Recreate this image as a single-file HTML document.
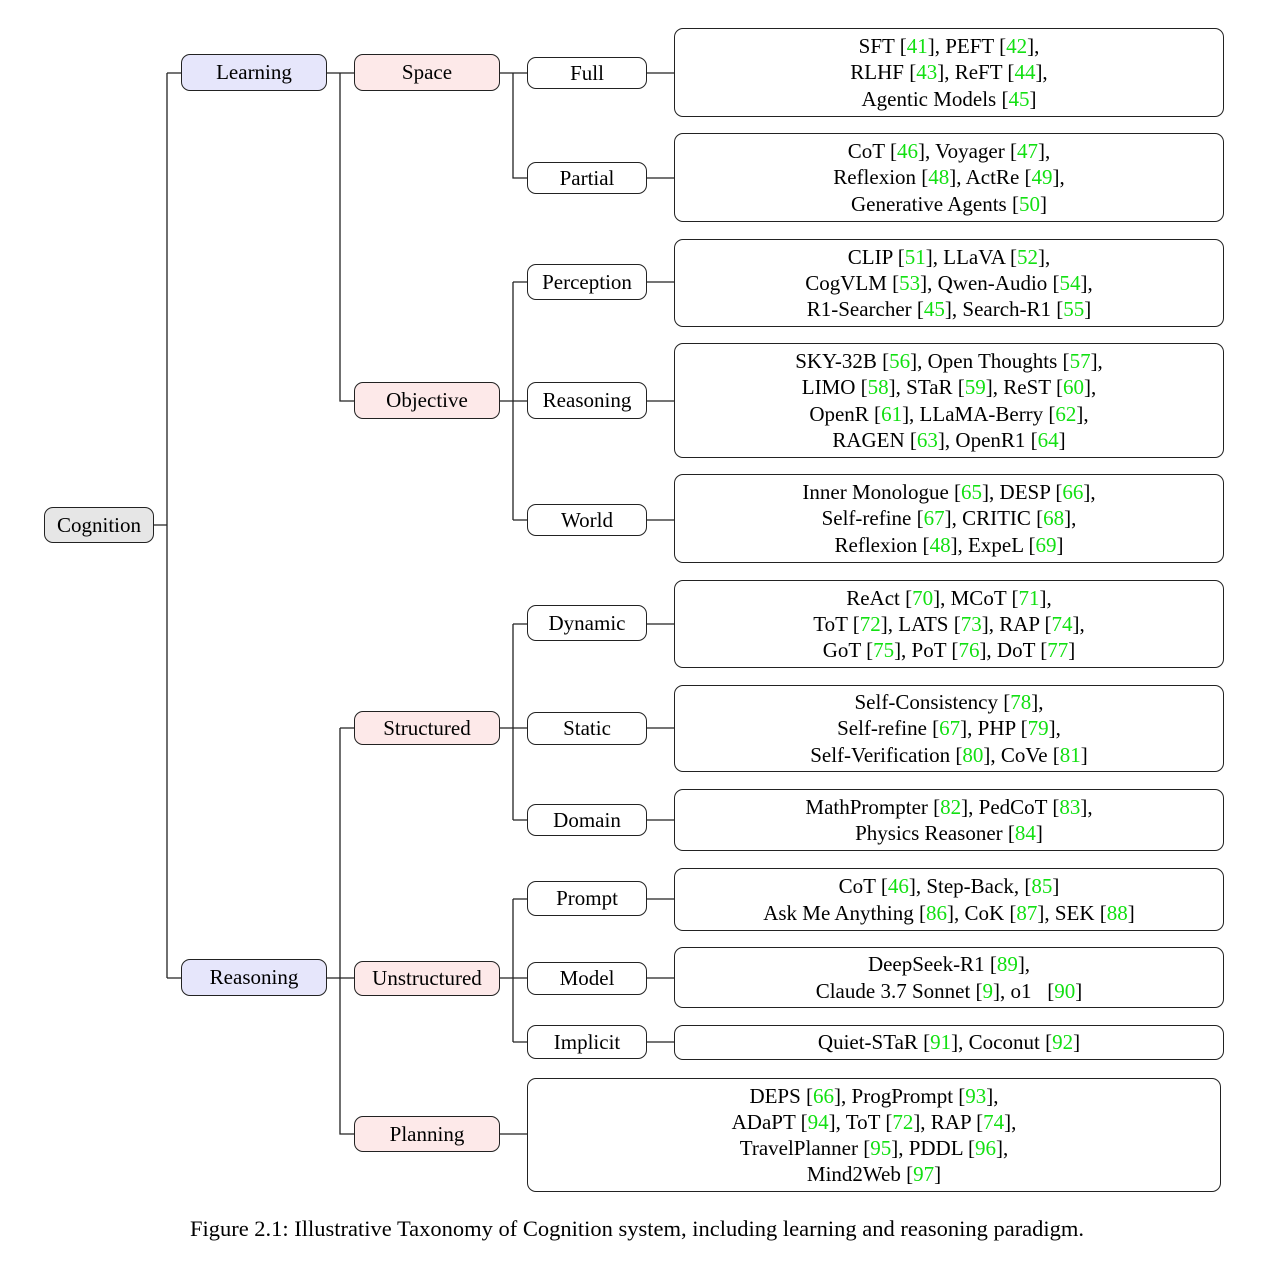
<!DOCTYPE html>
<html><head><meta charset="utf-8"><style>
body{margin:0;width:1280px;height:1276px;background:#fff;position:relative;font-family:"Liberation Serif",serif;color:#000;overflow:hidden}
.b{position:absolute;box-sizing:border-box;border:1.3px solid #222;border-radius:9px;display:flex;flex-direction:column;align-items:center;justify-content:center;font-size:21px;line-height:26.2px;text-align:center;white-space:nowrap}
.g{color:#12e012}
.c{background:#e6e6e6}.l{background:#e6e6fb}.m{background:#fde9e9}
svg{position:absolute;left:0;top:0}
.cap{position:absolute;left:0;width:1274px;top:1216px;text-align:center;font-size:22.5px}
</style></head><body>
<svg width="1280" height="1276" stroke="#222" stroke-width="1.3" fill="none">
<path d="M154 525H167M167 73V978M167 73H181M167 978H181"/>
<path d="M327 73H354M340 73V401H354M327 978H354M340 728V1134H354M340 728H354"/>
<path d="M500 73H527M513 73V178H527"/>
<path d="M500 401H527M513 282V520M513 282H527M513 520H527"/>
<path d="M500 728H527M513 624V820M513 624H527M513 820H527"/>
<path d="M500 978H527M513 899V1042M513 899H527M513 1042H527"/>
<path d="M500 1134H527"/>
<path d="M647 73H674M647 178H674M647 282H674M647 401H674M647 520H674M647 624H674M647 728H674M647 820H674M647 899H674M647 978H674M647 1042H674"/>
</svg>
<div class="b c" style="left:44px;top:507px;width:110px;height:36px">Cognition</div>
<div class="b l" style="left:181px;top:54px;width:146px;height:37px">Learning</div>
<div class="b l" style="left:181px;top:959px;width:146px;height:37px">Reasoning</div>
<div class="b m" style="left:354px;top:54px;width:146px;height:37px">Space</div>
<div class="b m" style="left:354px;top:382px;width:146px;height:37px">Objective</div>
<div class="b m" style="left:354px;top:711px;width:146px;height:34px">Structured</div>
<div class="b m" style="left:354px;top:961px;width:146px;height:35px">Unstructured</div>
<div class="b m" style="left:354px;top:1116px;width:146px;height:36px">Planning</div>

<div class="b" style="left:527px;top:57px;width:120px;height:32px">Full</div>
<div class="b" style="left:527px;top:162px;width:120px;height:32px">Partial</div>
<div class="b" style="left:527px;top:264px;width:120px;height:36px">Perception</div>
<div class="b" style="left:527px;top:382px;width:120px;height:37px">Reasoning</div>
<div class="b" style="left:527px;top:504px;width:120px;height:32px">World</div>
<div class="b" style="left:527px;top:605px;width:120px;height:36px">Dynamic</div>
<div class="b" style="left:527px;top:712px;width:120px;height:33px">Static</div>
<div class="b" style="left:527px;top:804px;width:120px;height:32px">Domain</div>
<div class="b" style="left:527px;top:881px;width:120px;height:35px">Prompt</div>
<div class="b" style="left:527px;top:962px;width:120px;height:33px">Model</div>
<div class="b" style="left:527px;top:1025px;width:120px;height:34px">Implicit</div>

<div class="b" style="left:674px;top:28px;width:550px;height:89px"><div>SFT [<span class="g">41</span>], PEFT [<span class="g">42</span>],</div><div>RLHF [<span class="g">43</span>], ReFT [<span class="g">44</span>],</div><div>Agentic Models [<span class="g">45</span>]</div></div>
<div class="b" style="left:674px;top:133px;width:550px;height:89px"><div>CoT [<span class="g">46</span>], Voyager [<span class="g">47</span>],</div><div>Reflexion [<span class="g">48</span>], ActRe [<span class="g">49</span>],</div><div>Generative Agents [<span class="g">50</span>]</div></div>
<div class="b" style="left:674px;top:239px;width:550px;height:88px"><div>CLIP [<span class="g">51</span>], LLaVA [<span class="g">52</span>],</div><div>CogVLM [<span class="g">53</span>], Qwen-Audio [<span class="g">54</span>],</div><div>R1-Searcher [<span class="g">45</span>], Search-R1 [<span class="g">55</span>]</div></div>
<div class="b" style="left:674px;top:343px;width:550px;height:115px"><div>SKY-32B [<span class="g">56</span>], Open Thoughts [<span class="g">57</span>],</div><div>LIMO [<span class="g">58</span>], STaR [<span class="g">59</span>], ReST [<span class="g">60</span>],</div><div>OpenR [<span class="g">61</span>], LLaMA-Berry [<span class="g">62</span>],</div><div>RAGEN [<span class="g">63</span>], OpenR1 [<span class="g">64</span>]</div></div>
<div class="b" style="left:674px;top:474px;width:550px;height:89px"><div>Inner Monologue [<span class="g">65</span>], DESP [<span class="g">66</span>],</div><div>Self-refine [<span class="g">67</span>], CRITIC [<span class="g">68</span>],</div><div>Reflexion [<span class="g">48</span>], ExpeL [<span class="g">69</span>]</div></div>
<div class="b" style="left:674px;top:580px;width:550px;height:88px"><div>ReAct [<span class="g">70</span>], MCoT [<span class="g">71</span>],</div><div>ToT [<span class="g">72</span>], LATS [<span class="g">73</span>], RAP [<span class="g">74</span>],</div><div>GoT [<span class="g">75</span>], PoT [<span class="g">76</span>], DoT [<span class="g">77</span>]</div></div>
<div class="b" style="left:674px;top:685px;width:550px;height:87px"><div>Self-Consistency [<span class="g">78</span>],</div><div>Self-refine [<span class="g">67</span>], PHP [<span class="g">79</span>],</div><div>Self-Verification [<span class="g">80</span>], CoVe [<span class="g">81</span>]</div></div>
<div class="b" style="left:674px;top:789px;width:550px;height:62px"><div>MathPrompter [<span class="g">82</span>], PedCoT [<span class="g">83</span>],</div><div>Physics Reasoner [<span class="g">84</span>]</div></div>
<div class="b" style="left:674px;top:868px;width:550px;height:63px"><div>CoT [<span class="g">46</span>], Step-Back, [<span class="g">85</span>]</div><div>Ask Me Anything [<span class="g">86</span>], CoK [<span class="g">87</span>], SEK [<span class="g">88</span>]</div></div>
<div class="b" style="left:674px;top:947px;width:550px;height:61px"><div>DeepSeek-R1 [<span class="g">89</span>],</div><div>Claude 3.7 Sonnet [<span class="g">9</span>], o1&nbsp;&nbsp; [<span class="g">90</span>]</div></div>
<div class="b" style="left:674px;top:1025px;width:550px;height:35px"><div>Quiet-STaR [<span class="g">91</span>], Coconut [<span class="g">92</span>]</div></div>
<div class="b" style="left:527px;top:1078px;width:694px;height:114px"><div>DEPS [<span class="g">66</span>], ProgPrompt [<span class="g">93</span>],</div><div>ADaPT [<span class="g">94</span>], ToT [<span class="g">72</span>], RAP [<span class="g">74</span>],</div><div>TravelPlanner [<span class="g">95</span>], PDDL [<span class="g">96</span>],</div><div>Mind2Web [<span class="g">97</span>]</div></div>

<div class="cap">Figure 2.1: Illustrative Taxonomy of Cognition system, including learning and reasoning paradigm.</div>
</body></html>
